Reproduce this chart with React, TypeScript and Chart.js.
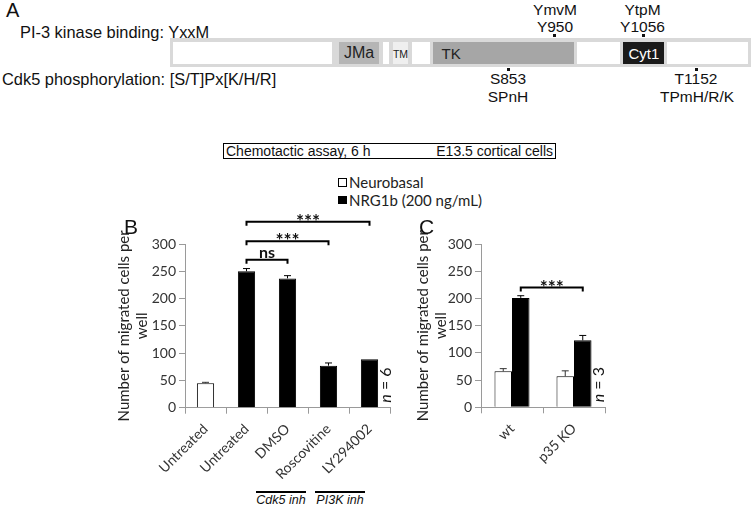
import React, { useEffect, useRef } from 'react';
import { Chart, registerables } from 'chart.js';
Chart.register(...registerables);

// ---- Panel B data ----
const bCategories = ['Untreated', 'Untreated', 'DMSO', 'Roscovitine', 'LY294002'];
const bNeurobasal = [45, null, null, null, null];
const bNeurobasalErr = [1.5, 0, 0, 0, 0];
const bNrg = [null, 250, 237, 77, 89];
const bNrgErr = [0, 5, 5, 5, 0];
const bBrackets = [
  { from: 1, to: 4, level: 341, label: '***' },
  { from: 1, to: 3, level: 305, label: '***' },
  { from: 1, to: 2, level: 271, label: 'ns' },
];
const bN = '6';

// ---- Panel C data ----
const cCategories = ['wt', 'p35 KO'];
const cNeurobasal = [66, 57];
const cNeurobasalErr = [5, 10];
const cNrg = [201, 123];
const cNrgErr = [4, 9];
const cBrackets = [{ from: 0, to: 1, level: 220, label: '***' }];
const cN = '3';

const yMin = 0;
const yMax = 300;
const yStep = 50;
const yTitle = ['Number of migrated cells per', 'well'];
const seriesNames = ['Neurobasal', 'NRG1b (200 ng/mL)'];

const annotPlugin = {
  id: 'annot',
  afterDatasetsDraw(chart: any, _args: any, opts: any) {
    const ctx = chart.ctx;
    const ys = chart.scales.y;
    // error bars
    chart.data.datasets.forEach((ds: any, di: number) => {
      const meta = chart.getDatasetMeta(di);
      const errs = ds.errors || [];
      meta.data.forEach((el: any, i: number) => {
        const v = ds.data[i];
        const e = errs[i];
        if (v == null || !e) return;
        const top = ys.getPixelForValue(v + e);
        ctx.save();
        ctx.strokeStyle = ds.errorColor || '#000';
        ctx.lineWidth = 1;
        ctx.beginPath();
        ctx.moveTo(el.x, el.y);
        ctx.lineTo(el.x, top);
        ctx.moveTo(el.x - 3.5, top);
        ctx.lineTo(el.x + 3.5, top);
        ctx.stroke();
        ctx.restore();
      });
    });
    // brackets
    const meta = chart.getDatasetMeta(1);
    (opts.brackets || []).forEach((b: any) => {
      const x1 = meta.data[b.from].x;
      const x2 = meta.data[b.to].x;
      const y = ys.getPixelForValue(b.level);
      ctx.save();
      ctx.strokeStyle = '#000';
      ctx.lineWidth = 2;
      ctx.beginPath();
      ctx.moveTo(x1, y + 4);
      ctx.lineTo(x1, y);
      ctx.lineTo(x2, y);
      ctx.lineTo(x2, y + 4);
      ctx.stroke();
      ctx.fillStyle = '#111';
      ctx.textAlign = 'center';
      ctx.textBaseline = 'alphabetic';
      if (b.label === 'ns') {
        ctx.font = 'bold 16px Lato';
        ctx.fillText(b.label, (x1 + x2) / 2, y - 1.5);
      } else {
        ctx.font = 'bold 19px Lato';
        ctx.fillText(b.label, (x1 + x2) / 2, y + 6);
      }
      ctx.restore();
    });
    // n label
    if (opts.n) {
      const area = chart.chartArea;
      const x = area.right + (opts.nDx || -5);
      const yc = ys.getPixelForValue(opts.nValue);
      ctx.save();
      ctx.translate(x, yc);
      ctx.rotate(-Math.PI / 2);
      ctx.textBaseline = 'middle';
      ctx.textAlign = 'left';
      ctx.fillStyle = '#111';
      const f1 = 'italic 16px Lato';
      const f2 = '16px Lato';
      ctx.font = f1;
      const w1 = ctx.measureText('n').width;
      ctx.font = f2;
      const t2 = ' = ' + opts.n;
      const w2 = ctx.measureText(t2).width;
      const sx = -(w1 + w2) / 2;
      ctx.font = f1;
      ctx.fillText('n', sx, 0);
      ctx.font = f2;
      ctx.fillText(t2, sx + w1, 0);
      ctx.restore();
    }
  },
};

function makeConfig(
  labels: string[],
  neuro: (number | null)[],
  neuroErr: number[],
  nrg: (number | null)[],
  nrgErr: number[],
  brackets: any[],
  n: string,
  catPct: number,
  padRight: number,
  yWidth: number,
  xHeight: number,
  titlePad: number,
  nDx: number
): any {
  const tickFont = { family: 'Lato', size: 14 };
  return {
    type: 'bar',
    data: {
      labels,
      datasets: [
        {
          label: seriesNames[0],
          data: neuro,
          errors: neuroErr,
          errorColor: '#333',
          backgroundColor: '#ffffff',
          borderColor: '#000000',
          borderWidth: 1,
          skipNull: true,
        },
        {
          label: seriesNames[1],
          data: nrg,
          errors: nrgErr,
          errorColor: '#000',
          backgroundColor: '#000000',
          borderColor: '#000000',
          borderWidth: 1,
          skipNull: true,
        },
      ],
    },
    options: {
      animation: false,
      responsive: false,
      devicePixelRatio: 1,
      categoryPercentage: catPct,
      barPercentage: 1,
      layout: { padding: { left: 0, top: 54, right: padRight, bottom: 0 } },
      plugins: {
        legend: { display: false },
        tooltip: { enabled: false },
        annot: { brackets, n, nValue: 41.5, nDx },
      },
      scales: {
        x: {
          grid: { display: true, drawOnChartArea: false, tickLength: 6, color: '#9a9a9a', offset: true },
          border: { color: '#9a9a9a' },
          ticks: { autoSkip: false, maxRotation: 45, minRotation: 45, color: '#333', font: tickFont, padding: 7 },
          afterFit: (s: any) => {
            s.height = xHeight;
          },
        },
        y: {
          min: yMin,
          max: yMax,
          ticks: { stepSize: yStep, color: '#333', font: tickFont, padding: 3 },
          grid: { display: true, drawOnChartArea: false, tickLength: 6, color: '#9a9a9a' },
          border: { color: '#9a9a9a' },
          title: {
            display: true,
            text: yTitle,
            color: '#222',
            font: { family: 'Lato', size: 15, lineHeight: 1.2 },
            padding: { top: titlePad, bottom: 0 },
          },
          afterFit: (s: any) => {
            s.width = yWidth;
          },
        },
      },
    },
    plugins: [annotPlugin],
  };
}

function ChartBox({ config, left, top, width, height }: any) {
  const ref = useRef<HTMLCanvasElement>(null);
  useEffect(() => {
    const chart = new Chart(ref.current as HTMLCanvasElement, config);
    return () => chart.destroy();
  }, []);
  return (
    <div style={{ position: 'absolute', left, top, width, height }}>
      <canvas ref={ref} width={width} height={height} style={{ width, height, display: 'block' }} />
    </div>
  );
}

function T({ x, y, children, size = 16, align = 'left', family = 'Liberation Sans, Arial, sans-serif', color = '#111', style = {} }: any) {
  const tx = align === 'center' ? '-50%' : align === 'right' ? '-100%' : '0';
  return (
    <div
      style={{
        position: 'absolute',
        left: x,
        top: y,
        transform: `translate(${tx}, -50%)`,
        fontSize: size,
        lineHeight: 1,
        fontFamily: family,
        color,
        whiteSpace: 'nowrap',
        ...style,
      }}
    >
      {children}
    </div>
  );
}

function Rect({ x1, x2, y1, y2, bg, border }: any) {
  return (
    <div
      style={{
        position: 'absolute',
        left: x1,
        top: y1,
        width: x2 - x1,
        height: y2 - y1,
        background: bg,
        border,
        boxSizing: 'border-box',
      }}
    />
  );
}

function PanelA() {
  const by1 = 41.5;
  const by2 = 64;
  return (
    <>
      <T x={6} y={10} size={20}>A</T>
      <T x={20} y={31.5} size={16.4}>PI-3 kinase binding: YxxM</T>
      <T x={2} y={78.5} size={16.4}>Cdk5 phosphorylation: [S/T]Px[K/H/R]</T>
      <Rect x1={170} x2={751} y1={38.3} y2={66.7} bg="#d9d9d9" />
      <Rect x1={173.3} x2={332} y1={by1} y2={by2} bg="#fff" />
      <Rect x1={339} x2={379} y1={by1} y2={by2} bg="#b5b5b5" />
      <T x={359} y={53} size={16} align="center" color="#222">JMa</T>
      <Rect x1={383.3} x2={389.3} y1={by1} y2={by2} bg="#fff" />
      <Rect x1={392.7} x2={408.3} y1={by1} y2={by2} bg="#efefef" />
      <T x={400.5} y={54} size={10.5} align="center" color="#222">TM</T>
      <Rect x1={411.7} x2={430} y1={by1} y2={by2} bg="#fff" />
      <Rect x1={433.3} x2={574} y1={by1} y2={by2} bg="#a6a6a6" />
      <T x={441.5} y={53} size={15} color="#222">TK</T>
      <Rect x1={577.3} x2={620} y1={by1} y2={by2} bg="#fff" />
      <Rect x1={623.3} x2={664.3} y1={by1} y2={by2} bg="#1a1a1a" />
      <T x={643.8} y={53} size={15} align="center" color="#fff">Cyt1</T>
      <Rect x1={666.7} x2={748} y1={by1} y2={by2} bg="#fff" />
      <T x={555} y={9.7} size={15.5} align="center">YmvM</T>
      <T x={555} y={27.2} size={15.5} align="center">Y950</T>
      <Rect x1={553} x2={555.5} y1={34.3} y2={37} bg="#111" />
      <T x={642.5} y={9.7} size={15.5} align="center">YtpM</T>
      <T x={642.5} y={27.2} size={15.5} align="center">Y1056</T>
      <Rect x1={642} x2={644.5} y1={34.3} y2={37} bg="#111" />
      <Rect x1={507} x2={509.5} y1={67.8} y2={71} bg="#111" />
      <T x={508} y={79} size={15.5} align="center">S853</T>
      <T x={508} y={97.2} size={15.5} align="center">SPnH</T>
      <Rect x1={695} x2={697.5} y1={67.8} y2={71} bg="#111" />
      <T x={696} y={79} size={15.5} align="center">T1152</T>
      <T x={697} y={97.2} size={15.5} align="center">TPmH/R/K</T>
    </>
  );
}

export default function App() {
  const cfgB = makeConfig(bCategories, bNeurobasal, bNeurobasalErr, bNrg, bNrgErr, bBrackets, bN, 0.42, 10, 85, 82.3, 15.5, -4);
  const cfgC = makeConfig(cCategories, cNeurobasal, cNeurobasalErr, cNrg, cNrgErr, cBrackets, cN, 0.565, 25, 81, 82.7, 14.5, -6);
  return (
    <div
      style={{
        position: 'absolute',
        left: 0,
        top: 0,
        width: 752,
        height: 506,
        background: '#fff',
        overflow: 'hidden',
      }}
    >
      <PanelA />
      {/* header box */}
      <div
        style={{
          position: 'absolute',
          left: 223,
          top: 143,
          width: 332.5,
          height: 16,
          border: '1.8px solid #000',
          boxSizing: 'border-box',
        }}
      />
      <T x={226} y={151} size={14}>Chemotactic assay, 6 h</T>
      <T x={553} y={151} size={14} align="right">E13.5 cortical cells</T>
      {/* legend */}
      <Rect x1={338.3} x2={346.7} y1={178} y2={186.5} bg="#fff" border="1px solid #000" />
      <T x={349} y={181.7} size={15} family="Lato" color="#222">{seriesNames[0]}</T>
      <Rect x1={338.3} x2={346.7} y1={195.5} y2={204} bg="#000" />
      <T x={349} y={199.5} size={15} family="Lato" color="#222">{seriesNames[1]}</T>
      {/* charts */}
      <ChartBox config={cfgB} left={100} top={190} width={300} height={300} />
      <ChartBox config={cfgC} left={400} top={190} width={230} height={300} />
      <T x={124} y={225.5} size={21}>B</T>
      <T x={419} y={225.5} size={21}>C</T>
      {/* inhibitor groups */}
      <Rect x1={256} x2={306} y1={490.7} y2={493.3} bg="#000" />
      <Rect x1={315} x2={365} y1={490.7} y2={493.3} bg="#000" />
      <T x={281} y={499.5} size={12.5} align="center" style={{ fontStyle: 'italic' }}>Cdk5 inh</T>
      <T x={340} y={499.5} size={12.5} align="center" style={{ fontStyle: 'italic' }}>PI3K inh</T>
    </div>
  );
}
